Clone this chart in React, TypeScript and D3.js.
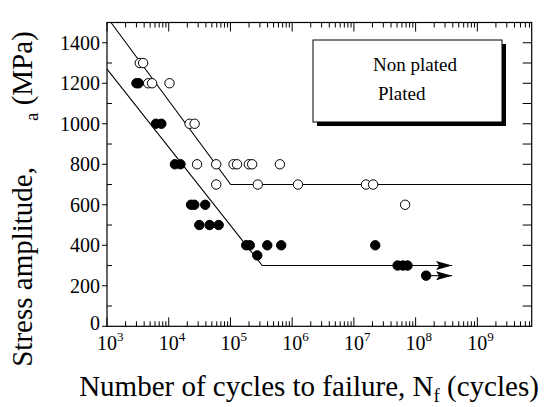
import React from "react";
import * as d3 from "d3";

// Fatigue data: cycles to failure vs stress amplitude
const nonPlatedN = [3400, 3850, 4640, 5380, 10300, 21800, 26300, 28800, 58800, 112000, 128000, 199000, 225000, 632000, 58800, 277000, 1.24e6, 1.57e7, 2.05e7, 6.76e7];
const nonPlatedS = [1300, 1300, 1200, 1200, 1200, 1000, 1000, 800, 800, 800, 800, 800, 800, 800, 700, 700, 700, 700, 700, 600];

const platedN = [3000, 3250, 6200, 7600, 12600, 15500, 23000, 26000, 39000, 31300, 45900, 64500, 180000, 206000, 395000, 665000, 2.22e7, 272000, 5.1e7, 6.2e7, 7.4e7, 1.48e8];
const platedS = [1200, 1200, 1000, 1000, 800, 800, 600, 600, 600, 500, 500, 500, 400, 400, 400, 400, 400, 350, 300, 300, 300, 250];

// S-N fit lines (bilinear)
const nonPlatedFitN = [1160, 1.01e5, 7.6e9];
const nonPlatedFitS = [1500, 700, 700];
const platedFitN = [1000, 3.27e5, 3.9e8];
const platedFitS = [1270, 300, 300];

// Run-out arrows (start cycles, end cycles, stress)
const runoutFromN = [7.4e7, 1.48e8];
const runoutToN = [3.9e8, 3.9e8];
const runoutS = [300, 250];

const xExponents = [3, 4, 5, 6, 7, 8, 9];
const yTickValues = [0, 200, 400, 600, 800, 1000, 1200, 1400];
const legendLabels = ["Non plated", "Plated"];

const FONT = '"Liberation Serif", "Times New Roman", Times, "DejaVu Serif", serif';

export default function App() {
  const left = 107, right = 531.7, top = 22.5, bottom = 326.3;
  const x = d3.scaleLog().domain([1e3, 7.6e9]).range([left, right]);
  const y = d3.scaleLinear().domain([0, 1500]).range([bottom, top]);

  const minorX: number[] = [];
  for (let e = 3; e <= 9; e++) {
    for (let k = 2; k <= 9; k++) {
      const v = k * Math.pow(10, e);
      if (v <= 7.6e9) minorX.push(v);
    }
  }
  const minorY = d3.range(100, 1500, 200);
  const allY = d3.range(100, 1500, 100);

  const line = d3
    .line<[number, number]>()
    .x((d) => x(d[0]))
    .y((d) => y(d[1]));

  const npFit = nonPlatedFitN.map((n, i) => [n, nonPlatedFitS[i]] as [number, number]);
  const pFit = platedFitN.map((n, i) => [n, platedFitS[i]] as [number, number]);

  const r = 4.7;
  const ts = { fontFamily: FONT };

  return (
    <div style={{ position: "absolute", left: 0, top: 0 }}>
      <svg width={552} height={407} style={{ display: "block", background: "#fff", fontFamily: FONT }}>
        <defs>
          <clipPath id="plot">
            <rect x={left} y={top} width={right - left} height={bottom - top} />
          </clipPath>
        </defs>

        {/* frame */}
        <rect x={left} y={top} width={right - left} height={bottom - top} fill="none" stroke="#000" strokeWidth={1.2} />

        {/* x ticks: bottom and top, inward */}
        {xExponents.map((e) => (
          <g key={"xm" + e}>
            <line x1={x(Math.pow(10, e))} x2={x(Math.pow(10, e))} y1={bottom} y2={bottom - 9} stroke="#000" strokeWidth={1} />
            <line x1={x(Math.pow(10, e))} x2={x(Math.pow(10, e))} y1={top} y2={top + 9} stroke="#000" strokeWidth={1} />
          </g>
        ))}
        {minorX.map((v, i) => (
          <g key={"xn" + i}>
            <line x1={x(v)} x2={x(v)} y1={bottom} y2={bottom - 5} stroke="#000" strokeWidth={1} />
            <line x1={x(v)} x2={x(v)} y1={top} y2={top + 5} stroke="#000" strokeWidth={1} />
          </g>
        ))}

        {/* y ticks: left major outward, left minor inward, right all inward */}
        {yTickValues.map((v) => (
          <line key={"ym" + v} x1={left - 5} x2={left} y1={y(v)} y2={y(v)} stroke="#000" strokeWidth={1} />
        ))}
        {minorY.map((v) => (
          <line key={"yn" + v} x1={left} x2={left + 5} y1={y(v)} y2={y(v)} stroke="#000" strokeWidth={1} />
        ))}
        {allY.map((v) => (
          <line key={"yr" + v} x1={right - 9} x2={right} y1={y(v)} y2={y(v)} stroke="#000" strokeWidth={1} />
        ))}

        {/* y tick labels */}
        {yTickValues.map((v) => (
          <text key={"yl" + v} style={ts} x={left - 7} y={v === 0 ? y(v) - 3 : y(v)} dy="0.35em" textAnchor="end" fontSize={20}>
            {v}
          </text>
        ))}

        {/* x tick labels */}
        {xExponents.map((e) => (
          <text key={"xl" + e} style={ts} x={x(Math.pow(10, e)) - 10} y={350} fontSize={20}>
            10
            <tspan fontSize={13} dy={-9}>{e}</tspan>
          </text>
        ))}

        {/* fit lines */}
        <g clipPath="url(#plot)">
          <path d={line(npFit) || ""} fill="none" stroke="#000" strokeWidth={1.1} />
          <path d={line(pFit) || ""} fill="none" stroke="#000" strokeWidth={1.1} />
        </g>

        {/* run-out arrows */}
        {runoutS.map((s, i) => {
          const x0 = x(runoutFromN[i]);
          const x1 = x(runoutToN[i]);
          const yy = y(s);
          return (
            <g key={"ro" + i}>
              <line x1={x0} x2={x1} y1={yy} y2={yy} stroke="#000" strokeWidth={1.1} />
              <path d={`M${x1 - 16},${yy - 4.5} L${x1},${yy} L${x1 - 16},${yy + 4.5} L${x1 - 13},${yy} Z`} fill="#000" />
            </g>
          );
        })}

        {/* data points */}
        {nonPlatedN.map((n, i) => (
          <circle key={"np" + i} cx={x(n)} cy={y(nonPlatedS[i])} r={r} fill="#fff" stroke="#000" strokeWidth={1} />
        ))}
        {platedN.map((n, i) => (
          <circle key={"p" + i} cx={x(n)} cy={y(platedS[i])} r={r} fill="#000" stroke="#000" strokeWidth={1} />
        ))}

        {/* legend */}
        <rect x={317} y={44} width={189} height={82} fill="#000" />
        <rect x={313} y={40} width={189} height={82} fill="#fff" stroke="#000" strokeWidth={1} />
        <text style={ts} x={373} y={71} fontSize={19}>{legendLabels[0]}</text>
        <text style={ts} x={378} y={100} fontSize={19}>{legendLabels[1]}</text>

        {/* axis titles */}
        <text style={ts} x={309} y={396} textAnchor="middle" fontSize={29}>
          Number of cycles to failure, N
          <tspan fontSize={19} dy={6}>f</tspan>
          <tspan dy={-6}> (cycles)</tspan>
        </text>
        <text style={ts} transform="translate(32,199) rotate(-90)" textAnchor="middle" fontSize={29}>
          Stress amplitude,
          <tspan dx={46} fontSize={19} dy={6}>a</tspan>
          <tspan dy={-6}> (MPa)</tspan>
        </text>
      </svg>
    </div>
  );
}
